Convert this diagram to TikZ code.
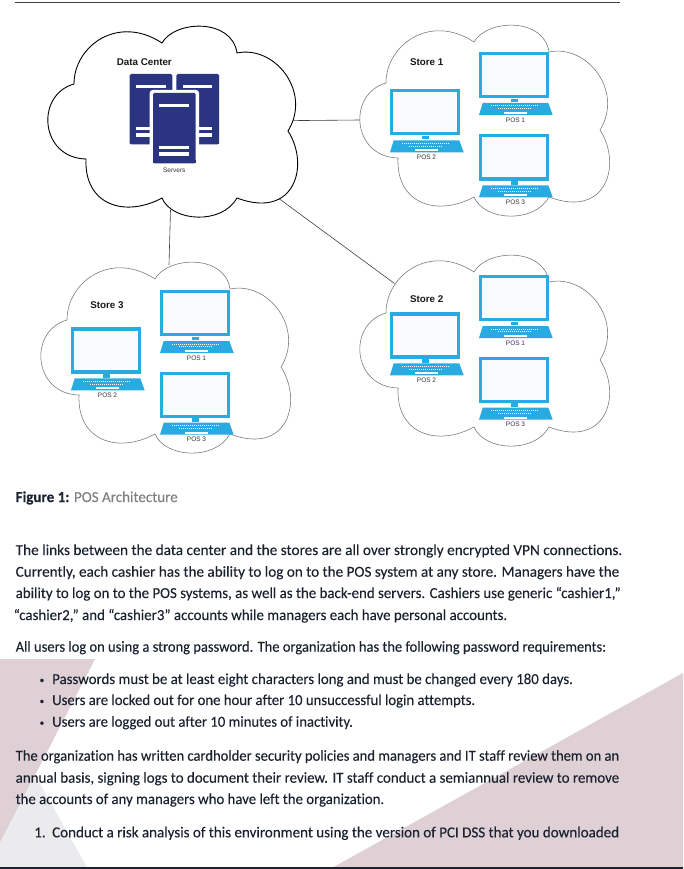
\documentclass[tikz,border=0pt]{standalone}
\usepackage{fontspec}
\setmainfont{Carlito}[RawFeature=-liga, FakeBold=0.12]
\setsansfont{Liberation Sans}
\usepackage{tikz}
\usetikzlibrary{positioning,calc}

\definecolor{wmpink}{HTML}{DFD0D6}
\definecolor{wmgray}{HTML}{EBEBED}
\definecolor{srvblue}{HTML}{2A3480}
\definecolor{lapblue}{HTML}{29ABE2}
\definecolor{scrwhite}{HTML}{F9FBFE}
\definecolor{bodyink}{HTML}{1A2230}

\newcommand{\fitline}[2]{\resizebox{#1pt}{\height}{#2}}

\begin{document}
\begin{tikzpicture}[
    x=1pt, y=-1pt,
    bodyline/.style={
        anchor=base west,
        inner sep=0pt,
        text=bodyink,
        font=\fontsize{15.2}{18}\selectfont
    },
    dotline/.style={
        anchor=base west,
        inner sep=0pt,
        text=bodyink,
        font=\fontsize{9}{10}\selectfont
    },
    bigtag/.style={
        font=\sffamily\bfseries\fontsize{9.8}{11}\selectfont,
        text=black!90,
        inner sep=0pt
    },
    smalltag/.style={
        font=\sffamily\fontsize{6.5}{8}\selectfont,
        text=black!80,
        inner sep=0pt
    },
    link/.style={draw=black!75, line width=0.6pt},
    srvbar/.style={fill=white, draw=none},
    pics/cloudshape/.style={
        code={
            \path[pic actions, fill=white]
                (74,84) .. controls (74,46) and (118,14) .. (162,43)
                .. controls (175,20) and (232,18) .. (237,53)
                .. controls (275,45) and (312,92) .. (288,131)
                .. controls (310,165) and (295,220) .. (237,198)
                .. controls (222,225) and (172,222) .. (162,198)
                .. controls (125,218) and (84,205) .. (86,159)
                .. controls (40,158) and (35,95) .. (74,84) -- cycle;
        }
    },
    pics/laptop/.style={
        code={
            \draw[draw=lapblue, fill=scrwhite, line width=3.2pt] (1.6,1.6) rectangle (68.6,44.6);
            \fill[lapblue] (32.3,46.7) rectangle (39,50.2);
            \fill[lapblue] (3.7,51) -- (69.3,51) -- (73.7,63) -- (0,63) -- cycle;
            \draw[white, line width=1pt, dash pattern=on 1.2pt off 0.8pt] (11.7,54) -- (58,54);
            \draw[white, line width=1pt, dash pattern=on 1.2pt off 0.8pt] (19,56.8) -- (52,56.8);
            \fill[white] (25,60) rectangle (48,62);
            \node[smalltag] (tag) at (36.5,67.8) {#1};
        }
    },
    pics/tower/.style={
        code={
            \fill[srvblue, rounded corners=1.5pt] (0,0) -- (0,-70.5) -- (42.7,-70.5) -- (42.7,0) -- cycle;
            \fill[srvblue] (0,-3) rectangle (42.7,0);
            \fill[srvbar] (6.4,-59.7) rectangle (36,-56.5);
            \fill[srvbar] (6.4,-17.7) rectangle (36,-14.4);
            \fill[srvbar] (6.4,-11) rectangle (36,-7.4);
        }
    }
]

\useasboundingbox (0,0) rectangle (683,869);

% Page background
\fill[wmpink] (0,659) -- (95,659) -- (0,843) -- cycle;
\fill[wmgray] (35,775) -- (88,869) -- (0,869) -- (0,843) -- cycle;
\fill[wmpink] (683,673) -- (683,869) -- (330,869) -- cycle;

% Page rules
\coordinate (ruleTopA) at (15,2.2);
\coordinate (ruleTopB) at (620,2.2);
\coordinate (ruleBotA) at (0,868);
\coordinate (ruleBotB) at (683,868);
\draw[black!75, line width=0.9pt] (ruleTopA) -- (ruleTopB);
\draw[bodyink, line width=1.2pt] (ruleBotA) -- (ruleBotB);

% Link ends
\coordinate (dcEast) at (293,120.6);
\coordinate (dcSouth) at (170.5,210);
\coordinate (dcCorner) at (279.5,199);
\coordinate (storeOneWest) at (360,120);
\coordinate (storeTwoWest) at (394.5,283.5);
\coordinate (storeThreeNorth) at (169,265);

% Links
\draw[link] (dcEast) -- (storeOneWest);
\draw[link] (dcSouth) -- (storeThreeNorth);
\draw[link] (dcCorner) -- (storeTwoWest);

% Clouds
\pic[draw=black, line width=0.9pt] (dcCloud) at (0,0) {cloudshape};
\pic[draw=black!55, line width=0.55pt] (oneCloud) at (312,-1) {cloudshape};
\pic[draw=black!55, line width=0.55pt] (twoCloud) at (312,229) {cloudshape};
\pic[draw=black!55, line width=0.55pt] (threeCloud) at (-7,236) {cloudshape};

% Data center
\node[bigtag] (dcTag) at (144.3,62.3) {Data Center};
\pic (srvLeft) at (129.7,144.5) {tower};
\pic (srvRight) at (176.3,144.5) {tower};
\fill[white, rounded corners=3pt] (149.7,163.3) -- (149.7,90) -- (199,90) -- (199,163.3) -- cycle;
\pic (srvFront) at (153,163.3) {tower};
\node[smalltag] (srvTag) at (174.3,170) {Servers};

% Store 1
\node[bigtag] (oneTag) at (426.7,62.3) {Store 1};
\pic (onePosA) at (479,52) {laptop=POS 1};
\pic (onePosB) at (390,89.3) {laptop=POS 2};
\pic (onePosC) at (479,134.3) {laptop=POS 3};

% Store 2
\node[bigtag] (twoTag) at (426.7,299.3) {Store 2};
\pic (twoPosA) at (479,275) {laptop=POS 1};
\pic (twoPosB) at (390,312.3) {laptop=POS 2};
\pic (twoPosC) at (479,356.7) {laptop=POS 3};

% Store 3
\node[bigtag] (threeTag) at (107,305) {Store 3};
\pic (threePosA) at (160,290) {laptop=POS 1};
\pic (threePosB) at (71,327.3) {laptop=POS 2};
\pic (threePosC) at (160,371.7) {laptop=POS 3};

% Caption
\node[bodyline] (caption) at (15.5,502) {\fitline{162}{\textbf{Figure 1:} \textcolor{black!50}{POS Architecture}}};

% Body text
\node[bodyline] (lineA) at (15.5,555) {\fitline{606.5}{The links between the data center and the stores are all over strongly encrypted VPN connections.}};
\node[bodyline] (lineB) at (15.5,576.7) {\fitline{603.5}{Currently, each cashier has the ability to log on to the POS system at any store. Managers have the}};
\node[bodyline] (lineC) at (15.5,598) {\fitline{605}{ability to log on to the POS systems, as well as the back-end servers. Cashiers use generic “cashier1,”}};
\node[bodyline] (lineD) at (13.5,620) {\fitline{493.5}{“cashier2,” and “cashier3” accounts while managers each have personal accounts.}};
\node[bodyline] (lineE) at (15.5,651.7) {\fitline{590.5}{All users log on using a strong password. The organization has the following password requirements:}};

% Bullets
\node[dotline] (dotA) at (39.5,683) {•};
\node[bodyline] (bulA) at (52,684) {\fitline{520.7}{Passwords must be at least eight characters long and must be changed every 180 days.}};
\node[dotline] (dotB) at (39.5,704) {•};
\node[bodyline] (bulB) at (52,705) {\fitline{423}{Users are locked out for one hour after 10 unsuccessful login attempts.}};
\node[dotline] (dotC) at (39.5,725.7) {•};
\node[bodyline] (bulC) at (52,726.7) {\fitline{300.7}{Users are logged out after 10 minutes of inactivity.}};

\node[bodyline] (lineF) at (15.5,760.7) {\fitline{603.5}{The organization has written cardholder security policies and managers and IT staff review them on an}};
\node[bodyline] (lineG) at (15.5,782.7) {\fitline{603.5}{annual basis, signing logs to document their review. IT staff conduct a semiannual review to remove}};
\node[bodyline] (lineH) at (15.5,804) {\fitline{368.5}{the accounts of any managers who have left the organization.}};

\node[bodyline] (numA) at (34,837.3) {1.};
\node[bodyline] (lineI) at (52,837.3) {\fitline{567}{Conduct a risk analysis of this environment using the version of PCI DSS that you downloaded}};

\end{tikzpicture}
\end{document}
